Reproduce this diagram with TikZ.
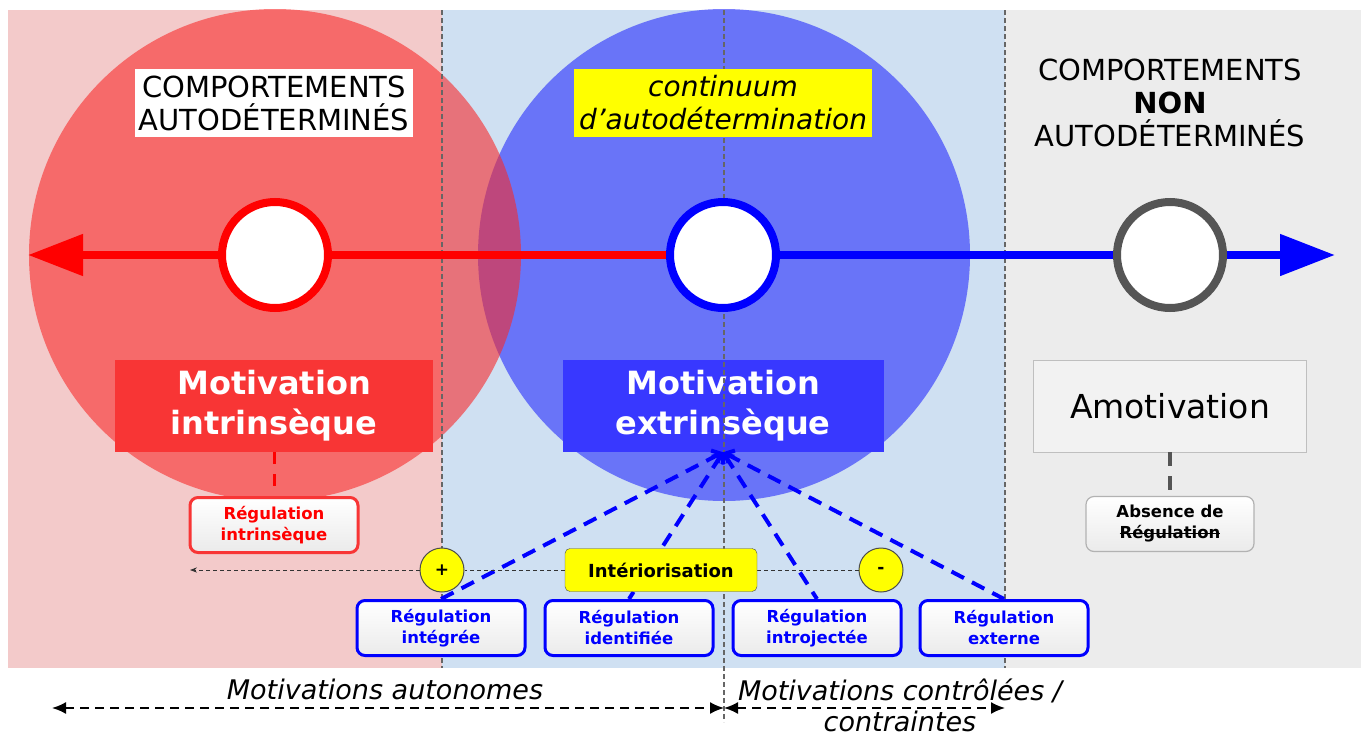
\documentclass[tikz,border=0pt]{standalone}
\usepackage{fontspec}
\setmainfont{DejaVu Sans}
\usetikzlibrary{arrows.meta,positioning}
\definecolor{PinkZone}{RGB}{243,202,202}
\definecolor{BlueZone}{RGB}{207,224,242}
\definecolor{GrayZone}{RGB}{236,236,236}
\definecolor{RedDisc}{RGB}{248,42,42}
\definecolor{BlueDisc}{RGB}{38,44,252}
\definecolor{RedBox}{RGB}{248,53,53}
\definecolor{BlueBox}{RGB}{56,56,255}
\definecolor{AxisRed}{RGB}{255,0,0}
\definecolor{AxisBlue}{RGB}{0,0,255}
\definecolor{RingGray}{RGB}{85,85,85}
\definecolor{MarkYellow}{RGB}{255,255,0}
\newsavebox\barreBox
\newcommand\barre[1]{\sbox\barreBox{#1}\leavevmode\rlap{\usebox\barreBox}%
  \rule[0.3em]{\wd\barreBox}{1.4pt}}

\begin{document}
\begin{tikzpicture}[x=1pt,y=-1pt,
    zoneline/.style={draw=black!60,line width=1.1pt,dash pattern=on 5pt off 3pt},
    ring/.style={circle,fill=white,line width=8pt,minimum size=106pt,inner sep=0pt},
    bigbox/.style={minimum height=92pt,inner sep=4pt,align=center,
      font=\fontsize{32}{40}\selectfont\bfseries,text=white},
    regbox/.style={rounded corners=8pt,line width=3pt,minimum width=168pt,
      minimum height=55pt,align=center,top color=white,bottom color=black!8,
      font=\fontsize{16.5}{21}\selectfont\bfseries},
    bluebox/.style={regbox,draw=AxisBlue,text=AxisBlue},
    signe/.style={circle,fill=MarkYellow,draw=black!70,line width=1pt,
      minimum size=44pt,inner sep=0pt,font=\fontsize{17}{17}\selectfont\bfseries},
    bluedash/.style={draw=AxisBlue,line width=4pt,dash pattern=on 14pt off 9pt},
    spanarrow/.style={{Latex[length=14pt,width=12pt]}-{Latex[length=14pt,width=12pt]},
      line width=1.8pt,dash pattern=on 9pt off 6pt}]
  \useasboundingbox (0,0) rectangle (1361,737);

  % fonds
  \fill[PinkZone] (8,10) rectangle (442,668);
  \fill[BlueZone] (442,10) rectangle (1005,668);
  \fill[GrayZone] (1005,10) rectangle (1361,668);
  \fill[BlueDisc,opacity=.6] (724,255) circle (246pt);
  \fill[RedDisc,opacity=.6] (275,255) circle (246pt);

  % grandes boites
  \node[bigbox,fill=RedBox,minimum width=318pt] (motIntr) at (274,406)
    {Motivation\\intrinsèque};
  \node[bigbox,fill=BlueBox,minimum width=321pt] (motExtr) at (723,406)
    {Motivation\\extrinsèque};
  \node[minimum width=273pt,minimum height=92pt,fill=black!5,draw=black!25,
    font=\fontsize{33}{38}\selectfont] (amot) at (1170,406) {Amotivation};

  \draw[zoneline] (442,10) -- (442,668);
  \draw[zoneline] (1005,10) -- (1005,668);
  \draw[zoneline] (724,10) -- (724,722);

  % axe
  \coordinate (tipLeft) at (28,255);
  \coordinate (tipRight) at (1335,255);
  \draw[AxisRed,line width=8pt,-{Triangle[length=55pt,width=40pt]}]
    (724,255) -- (tipLeft);
  \draw[AxisBlue,line width=8pt,-{Triangle[length=55pt,width=40pt]}]
    (724,255) -- (tipRight);
  \node[ring,draw=AxisRed] (ringIntr) at (275,255) {};
  \node[ring,draw=AxisBlue] (ringExtr) at (723,255) {};
  \node[ring,draw=RingGray] (ringAmot) at (1170,255) {};

  % titres
  \node[fill=white,align=center,inner xsep=4pt,inner ysep=7pt,
    font=\fontsize{29}{33}\selectfont] (titleAuto) at (274,103)
    {COMPORTEMENTS\\AUTODÉTERMINÉS};
  \node[fill=MarkYellow,align=center,inner xsep=5pt,inner ysep=7pt,
    font=\fontsize{28}{33}\selectfont\itshape] (titleCont) at (723,103)
    {continuum\\d’autodétermination};
  \node[align=center,font=\fontsize{29}{33}\selectfont] (titleNon) at (1170,103)
    {COMPORTEMENTS\\\textbf{NON}\\AUTODÉTERMINÉS};

  % regulations
  \node[regbox,draw=RedBox,text=AxisRed] (regIntr) at (274,525)
    {Régulation\\intrinsèque};
  \node[regbox,draw=black!30,line width=1.2pt] (regAbs) at (1170,524)
    {Absence de\\\barre{Régulation}};
  \node[bluebox] (regInteg) at (441,628) {Régulation\\intégrée};
  \node[bluebox] (regIdent) at (629,628) {Régulation\\identifiée};
  \node[bluebox] (regIntro) at (817,628) {Régulation\\introjectée};
  \node[bluebox] (regExt) at (1004,628) {Régulation\\externe};

  \draw[AxisRed,line width=3pt,dash pattern=on 12pt off 10pt]
    (motIntr.south) -- (regIntr.north);
  \draw[RingGray,line width=4pt,dash pattern=on 14pt off 10pt]
    (amot.south) -- (regAbs.north);
  \foreach \reg in {regInteg,regIdent,regIntro,regExt}
    \draw[bluedash,{Straight Barb[length=7pt,width=14pt]}-] (motExtr.south) -- (\reg.north);

  % interiorisation
  \node[signe] (plus) at (442,570) {+};
  \node[signe] (minus) at (881,570) {-};
  \coordinate (tipInter) at (190,570);
  \draw[black!80,line width=0.8pt,dash pattern=on 4pt off 3pt] (minus) -- (plus);
  \draw[black!80,line width=0.8pt,dash pattern=on 4pt off 3pt,-{Stealth[length=7pt]}]
    (plus) -- (tipInter);
  \node[fill=MarkYellow,draw=black!70,rounded corners=5pt,minimum width=192pt,
    minimum height=43pt,font=\fontsize{18}{20}\selectfont\bfseries] (inter)
    at (661,570) {Intériorisation};

  % bas
  \coordinate (spanLeft) at (52,708);
  \coordinate (spanMid) at (724,708);
  \coordinate (spanRight) at (1005,708);
  \draw[spanarrow] (spanLeft) -- (spanMid);
  \draw[spanarrow] (spanMid) -- (spanRight);
  \node[font=\fontsize{27}{31}\selectfont\itshape] (autonomes) at (385,689)
    {Motivations autonomes};
  \node[align=center,font=\fontsize{27}{31}\selectfont\itshape] (controlees)
    at (900,705) {Motivations contrôlées /\\contraintes};
\end{tikzpicture}
\end{document}
